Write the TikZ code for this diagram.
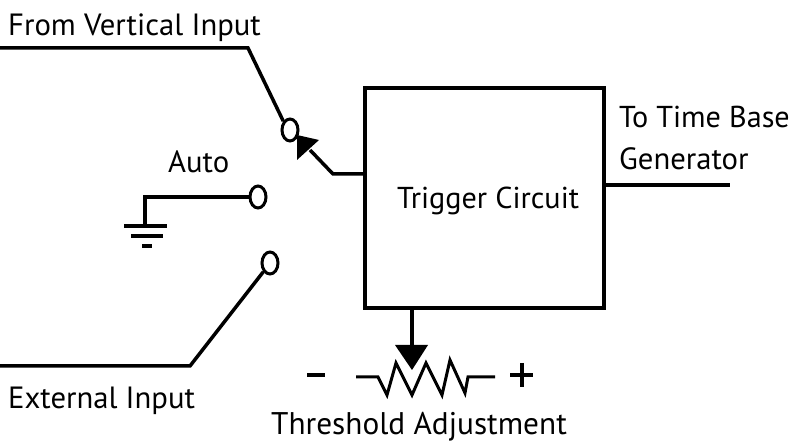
\documentclass[tikz,border=0pt]{standalone}
\usepackage{fontspec}
\setmainfont{PT Sans}
\usetikzlibrary{shapes.geometric}
\tikzset{
  wire/.style={line width=3.5pt,line join=miter},
  thin wire/.style={line width=3pt},
  terminal/.style={draw,ellipse,line width=3pt,minimum width=16pt,minimum height=22pt,inner sep=0pt,fill=white},
  block/.style={draw,line width=3.5pt,minimum width=239pt,minimum height=220pt,inner sep=0pt},
  lbl/.style={font=\fontsize{#1}{34pt}\selectfont,inner sep=0pt,anchor=base west,align=left},
  lbl/.default={30.7pt},
  head/.style={fill=black,draw=none}
}
\begin{document}
\begin{tikzpicture}[x=1pt,y=-1pt]
\useasboundingbox (0,0) rectangle (790,443);
% block
\node[block] (trig) at (484.5,198) {};
% terminals
\node[terminal] (t1) at (290,130) {};
\node[terminal] (t2) at (258,197) {};
\node[terminal] (t3) at (270,263) {};
% free ends
\coordinate (v0) at (0,48);
\coordinate (v1) at (248,48);
\coordinate (e0) at (0,366);
\coordinate (e1) at (190,366);
\coordinate (g1) at (145,197);
\coordinate (g2) at (145,226);
\coordinate (arm) at (333,174);
\coordinate (arrowbase) at (310,150);
\coordinate (out) at (730,185);
\coordinate (dn) at (412,345);
% connectors
\draw[wire] (v0) -- (v1) -- (t1.north west);
\draw[wire] (e0) -- (e1) -- (t3.south west);
\draw[wire] (t2.west) -- (g1) -- (g2);
\draw[wire] (trig.west |- arm) -- (arm) -- (arrowbase);
\draw[wire] (trig.east |- out) -- (out);
\draw[wire] (trig.south -| dn) -- (dn);
% ground
\draw[wire] (124,226) -- (167,226);
\draw[wire] (131,236) -- (163,236);
\draw[wire] (142,246) -- (152,246);
% arrowheads
\fill[head] (297,135) -- (319,140) -- (297,160) -- cycle;
\fill[head] (395,345) -- (428,345) -- (412,370) -- cycle;
% resistor
\draw[thin wire] (356,377) -- (378,377) -- (387,395) -- (396,363) -- (412,395) -- (426,363) -- (442,395) -- (450,360) -- (465,393) -- (468,377) -- (495,377);
% minus and plus
\draw[wire] (307,375) -- (325,375);
\draw[wire] (510,375) -- (533,375);
\draw[wire] (522,363) -- (522,387);
% labels
\node[lbl] (l1) at (8,36) {From Vertical Input};
\node[lbl] (l2) at (168,173) {Auto};
\node[lbl] (l3) at (8,409) {External Input};
\node[lbl=31.3pt] (l4) at (271,435) {Threshold Adjustment};
\node[lbl=30.2pt] (l5) at (397,209) {Trigger Circuit};
\node[lbl=30.2pt] (l6) at (619,128) {To Time Base};
\node[lbl] (l7) at (619,170) {Generator};
\end{tikzpicture}
\end{document}
